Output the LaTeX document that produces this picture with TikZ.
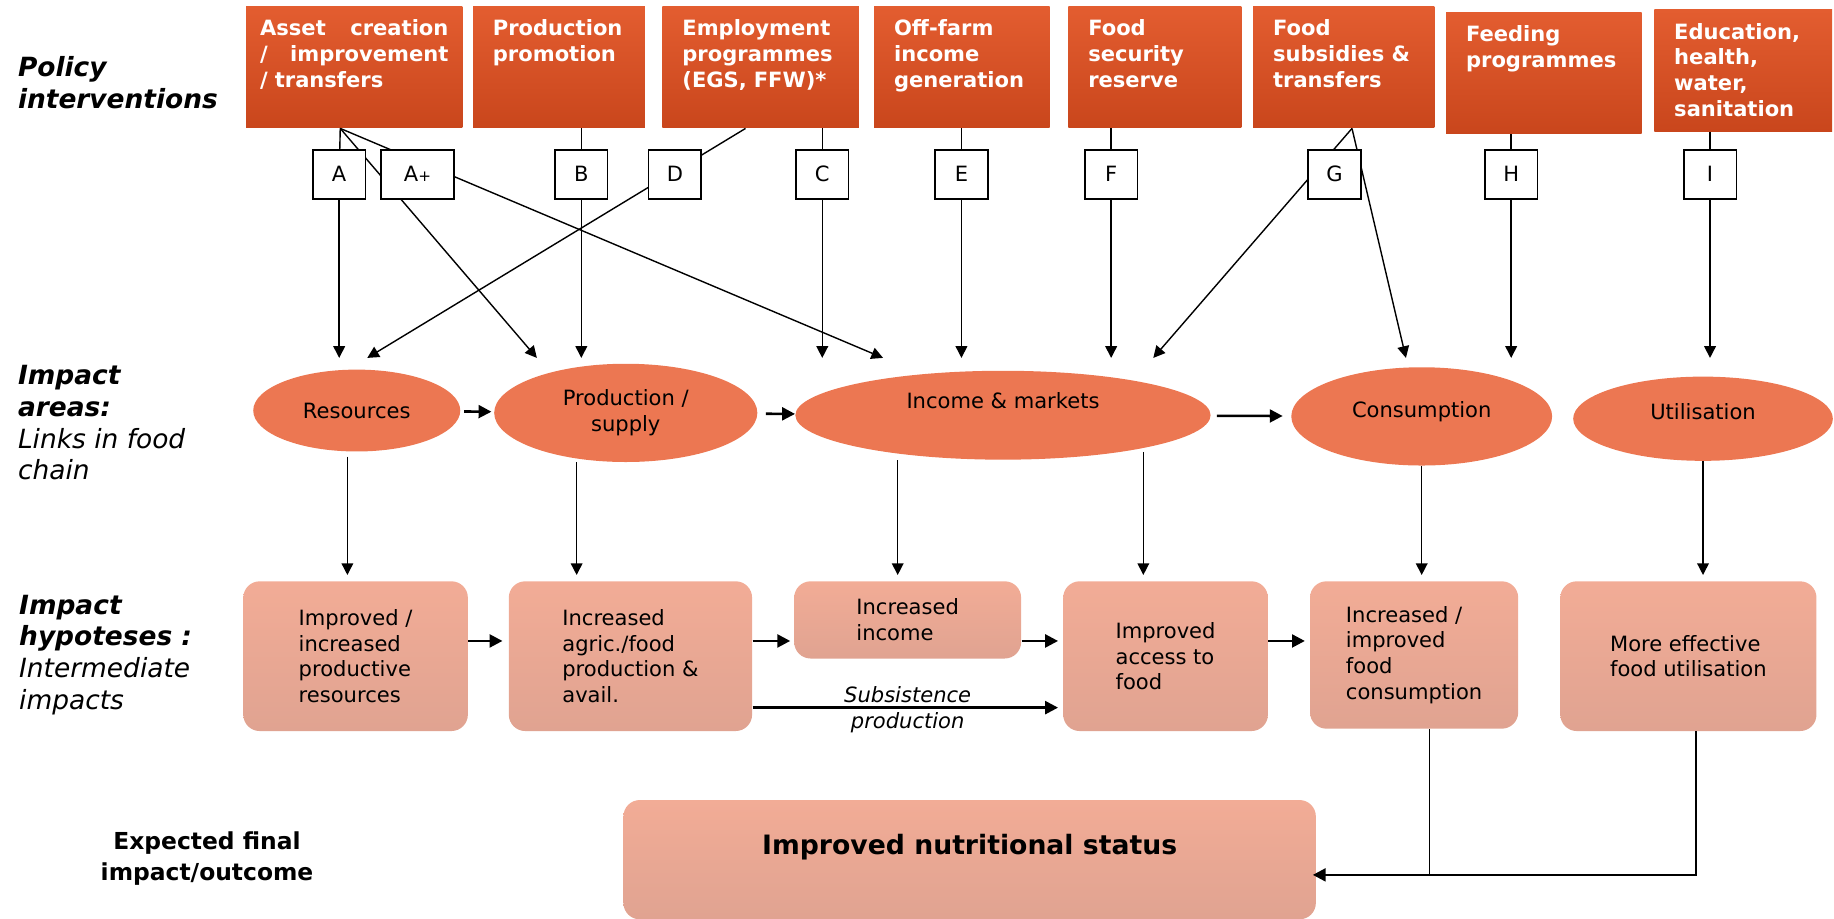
\documentclass[tikz,border=0pt]{standalone}
\usepackage{fontspec}
\setmainfont{DejaVu Sans}
\usepackage{xcolor}
\usetikzlibrary{shapes.geometric, arrows.meta}

\definecolor{policytop}{HTML}{E35D30}
\definecolor{policybot}{HTML}{C9461C}
\definecolor{areafill}{HTML}{EC7752}
\definecolor{hyptop}{HTML}{F2AC96}
\definecolor{hypbot}{HTML}{E0A391}

\begin{document}
\begin{tikzpicture}[
    x=0.5pt, y=-0.5pt,
    policy/.style={rectangle, anchor=north west, top color=policytop, bottom color=policybot, text=white, align=left, text width=#1, inner xsep=8.5pt, inner ysep=0pt, text height=12.5pt, text depth=39.5pt, font=\fontsize{9}{11}\selectfont\bfseries},
    tag/.style={rectangle, draw, fill=white, line width=0.7pt, minimum width=22.5pt, minimum height=21pt, inner sep=0pt, font=\fontsize{9}{11}\selectfont},
    area/.style={ellipse, fill=areafill, inner sep=0pt, align=center, font=\fontsize{9}{11}\selectfont},
    hyp/.style={rectangle, rounded corners=7pt, top color=hyptop, bottom color=hypbot, align=left, font=\fontsize{9}{11}\selectfont},
    side/.style={anchor=west, align=left, inner xsep=0pt, font=\fontsize{11.3}{13.6}\selectfont\itshape},
    sub/.style={inner sep=1.5pt, font=\fontsize{9}{11}\selectfont\itshape},
    arrow/.style={-{Triangle[length=5pt, width=5pt]}, line width=0.6pt},
    bigarrow/.style={-{Triangle[length=5.5pt, width=5.5pt]}, line width=1.1pt},
    link/.style={line width=0.6pt}
]
\useasboundingbox (0,0) rectangle (1568,785);

% Row labels
\node[side] (lblPolicy) at (15,70.5) {\textbf{Policy}\\\textbf{interventions}};
\node[side] (lblAreas) at (15,361.5) {\textbf{Impact}\\\textbf{areas:}\\Links in food\\chain};
\node[side] (lblHyp) at (16,560) {\textbf{Impact}\\\textbf{hypoteses :}\\Intermediate\\impacts};
\node[align=center, font=\fontsize{10}{13}\selectfont\bfseries] (lblFinal) at (177,734) {Expected final\\impact/outcome};

% Policy interventions
\node[policy=80.5pt, inner xsep=3.5pt, minimum width=92.5pt] (pAsset) at (210,5) {Asset\hfill creation\\/\hfill improvement\\/ transfers};
\node[policy=56.5pt] (pProm) at (404,5) {Production\\promotion};
\node[policy=67pt] (pEmp) at (566,5) {Employment\\programmes\\(EGS, FFW)*};
\node[policy=58pt] (pOff) at (747,5) {Off-farm\\income\\generation};
\node[policy=57pt] (pRes) at (913,5) {Food\\security\\reserve};
\node[policy=60.5pt] (pSub) at (1071,5) {Food\\subsidies \&\\transfers};
\node[policy=66.5pt] (pFeed) at (1236,10) {Feeding\\programmes};
\node[policy=59pt] (pEdu) at (1414,8) {Education,\\health,\\water,\\sanitation};

% Impact areas
\node[area, minimum width=88.5pt, minimum height=35pt] (eRes) at (305,351) {Resources};
\node[area, minimum width=112.5pt, minimum height=42pt] (eProd) at (535,353) {Production /\\supply};
\node[area, minimum width=177.5pt, minimum height=38pt, text height=7pt, text depth=12.4pt] (eInc) at (857.5,355) {Income \& markets};
\node[area, minimum width=111.5pt, minimum height=42pt, text height=7pt, text depth=6.4pt] (eCons) at (1215.5,356) {Consumption};
\node[area, minimum width=111pt, minimum height=36pt, text height=7pt, text depth=6.4pt] (eUtil) at (1456,358) {Utilisation};

% Impact hypotheses
\node[hyp, minimum width=96pt, minimum height=64pt] (rRes) at (304,561) {Improved /\\increased\\productive\\resources};
\node[hyp, minimum width=104pt, minimum height=64pt] (rAgr) at (539,561) {Increased\\agric./food\\production \&\\avail.};
\node[hyp, minimum width=97pt, minimum height=33pt] (rInc) at (776,530) {Increased\\income};
\node[hyp, minimum width=87.5pt, minimum height=64pt] (rAcc) at (996.5,561) {Improved\\access to\\food};
\node[hyp, minimum width=89pt, minimum height=63pt] (rCons) at (1209,560) {Increased /\\improved\\food\\consumption};
\node[hyp, minimum width=109.5pt, minimum height=64pt] (rUtil) at (1443.5,561) {More effective\\food utilisation};

% Final outcome
\node[hyp, minimum width=296pt, minimum height=51pt, text height=8.5pt, text depth=13.1pt, font=\fontsize{11.4}{13.7}\selectfont\bfseries] (rFinal) at (829,735) {Improved nutritional status};

% Arrow ends
\coordinate (fAsset) at ([xshift=-6pt]pAsset.south);
\coordinate (fEmp) at ([xshift=-6.5pt]pEmp.south);
\coordinate (fSub) at ([xshift=3.5pt]pSub.south);
\coordinate (impactY) at (0,306);
\coordinate (toProdA) at (459,306);
\coordinate (toIncA) at (755,306);
\coordinate (toResD) at (314,306);
\coordinate (toIncG) at (986,306);
\coordinate (toConsG) at (1202,306);
\coordinate (fin) at ([yshift=-6.5pt]rFinal.east);

% Crossing links (under the tags)
\draw[arrow] (fAsset) -- (toProdA);
\draw[arrow] (fAsset) -- (toIncA);
\draw[arrow] (fEmp) -- (toResD);
\draw[arrow] (fSub) -- (toIncG);
\draw[arrow] (fSub) -- (toConsG);

% Tags
\node[tag] (lA) at (290,149) {A};
\node[tag, minimum width=31pt] (lAp) at (357,149) {A{\fontsize{6.5}{7}\selectfont+}};
\node[tag] (lB) at (497,149) {B};
\node[tag] (lD) at (577,149) {D};
\node[tag] (lC) at (703,149) {C};
\node[tag] (lE) at (822,149) {E};
\node[tag] (lF) at (950,149) {F};
\node[tag] (lG) at (1141,149) {G};
\node[tag] (lH) at (1292,149) {H};
\node[tag] (lI) at (1462,149) {I};

% Straight links
\draw[link] (fAsset) -- (lA);
\draw[arrow] (lA) -- (lA |- impactY);
\draw[link] (lB |- pProm.south) -- (lB);
\draw[arrow] (lB) -- (lB |- impactY);
\draw[link] (lC |- pEmp.south) -- (lC);
\draw[arrow] (lC) -- (lC |- impactY);
\draw[link] (lE |- pOff.south) -- (lE);
\draw[arrow] (lE) -- (lE |- impactY);
\draw[link] (lF |- pRes.south) -- (lF);
\draw[arrow] (lF) -- (lF |- impactY);
\draw[link] (lH |- pFeed.south) -- (lH);
\draw[arrow] (lH) -- (lH |- impactY);
\draw[link] (lI |- pEdu.south) -- (lI);
\draw[arrow] (lI) -- (lI |- impactY);

% Food chain
\draw[bigarrow, shorten <=1.5pt, shorten >=1pt] (eRes) -- (eProd);
\draw[bigarrow, shorten <=3.5pt] (eProd) -- (eInc);
\draw[bigarrow, shorten <=2.5pt, shorten >=3.5pt] (eInc) -- (eCons);

% Areas to hypotheses
\draw[arrow, shorten <=2pt, shorten >=2.5pt] ([xshift=-4pt]eRes.south) -- ([xshift=-4pt]eRes.south |- rRes.north);
\draw[arrow, shorten >=2.5pt] ([xshift=-21pt]eProd.south) -- ([xshift=-21pt]eProd.south |- rAgr.north);
\draw[arrow, shorten >=2.5pt] ([xshift=-45pt]eInc.south) -- ([xshift=-45pt]eInc.south |- rInc.north);
\draw[arrow, shorten >=2.5pt] ([xshift=60pt, yshift=3.5pt]eInc.south) -- ([xshift=60pt]eInc.south |- rAcc.north);
\draw[arrow, shorten >=2.5pt] (eCons) -- (eCons |- rCons.north);
\draw[arrow, shorten >=2.5pt] (eUtil) -- (eUtil |- rUtil.north);

% Between hypotheses
\draw[bigarrow, shorten >=2.5pt] ([yshift=6.5pt]rRes.east) -- ([yshift=6.5pt]rAgr.west);
\draw[bigarrow, shorten >=1.5pt] ([yshift=6.5pt]rAgr.east) -- ([yshift=6.5pt]rAgr.east -| rInc.west);
\draw[bigarrow, shorten >=2pt] ([yshift=6.5pt]rAcc.west -| rInc.east) -- ([yshift=6.5pt]rAcc.west);
\draw[bigarrow, shorten >=2pt] ([yshift=6.5pt]rAcc.east) -- ([yshift=6.5pt]rAcc.east -| rCons.west);
\draw[bigarrow, shorten >=2pt] ([yshift=-22pt]rAgr.east) -- node[above, sub] {Subsistence} node[below, sub] {production} ([yshift=-22pt]rAgr.east -| rAcc.west);

% To final outcome
\draw[link] ([xshift=6.5pt]rCons.south) -- ([xshift=6.5pt]rCons.south |- fin);
\draw[bigarrow, shorten >=-1.5pt] ([xshift=3.25pt]rUtil.south) |- (fin);

\end{tikzpicture}
\end{document}
